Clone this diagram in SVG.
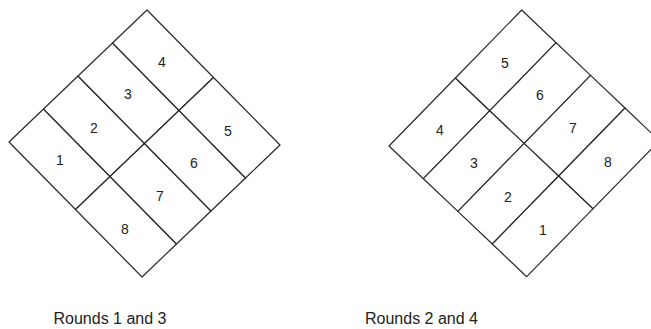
<svg xmlns="http://www.w3.org/2000/svg" width="651" height="329" viewBox="0 0 651 329">
<style>
.cell{fill:#fff;stroke:#2a2a2a;stroke-width:1.2;stroke-linejoin:round}
.num{font-family:"Liberation Sans",Arial,sans-serif;font-size:14px;fill:#222;text-anchor:middle}
.cap{font-family:"Liberation Sans",Arial,sans-serif;font-size:16px;fill:#222;text-anchor:middle}
</style>
<rect width="651" height="329" fill="#fff"/>
<g id="left-diamond">
<g id="L1"><polygon class="cell" points="9,142 43.5,109 110,176.5 75.5,209.5"/><text class="num" x="60" y="165">1</text></g>
<g id="L2"><polygon class="cell" points="43.5,109 78,76 144.5,143.5 110,176.5"/><text class="num" x="94" y="133">2</text></g>
<g id="L3"><polygon class="cell" points="78,76 112.5,43 179,110.5 144.5,143.5"/><text class="num" x="128" y="99">3</text></g>
<g id="L4"><polygon class="cell" points="112.5,43 147,10 213.5,77.5 179,110.5"/><text class="num" x="162" y="67">4</text></g>
<g id="L8"><polygon class="cell" points="75.5,209.5 110,176.5 176.5,244 142,277"/><text class="num" x="125" y="234">8</text></g>
<g id="L7"><polygon class="cell" points="110,176.5 144.5,143.5 211,211 176.5,244"/><text class="num" x="160" y="201">7</text></g>
<g id="L6"><polygon class="cell" points="144.5,143.5 179,110.5 245.5,178 211,211"/><text class="num" x="194" y="168">6</text></g>
<g id="L5"><polygon class="cell" points="179,110.5 213.5,77.5 280,145 245.5,178"/><text class="num" x="228" y="136">5</text></g>
</g>
<g id="right-diamond">
<g id="R4"><polygon class="cell" points="389,146 423.4,178.7 489.8,110.7 455.4,78"/><text class="num" x="440" y="135">4</text></g>
<g id="R3"><polygon class="cell" points="423.4,178.7 457.9,211.4 524.2,143.4 489.8,110.7"/><text class="num" x="474" y="168">3</text></g>
<g id="R2"><polygon class="cell" points="457.9,211.4 492.3,244 558.7,176 524.2,143.4"/><text class="num" x="508" y="202">2</text></g>
<g id="R1"><polygon class="cell" points="492.3,244 526.7,276.7 593.1,208.7 558.7,176"/><text class="num" x="543" y="235">1</text></g>
<g id="R5"><polygon class="cell" points="455.4,78 489.8,110.7 556.1,42.7 521.7,10"/><text class="num" x="505" y="68">5</text></g>
<g id="R6"><polygon class="cell" points="489.8,110.7 524.2,143.4 590.6,75.4 556.1,42.7"/><text class="num" x="540" y="100">6</text></g>
<g id="R7"><polygon class="cell" points="524.2,143.4 558.7,176 625,108 590.6,75.4"/><text class="num" x="573" y="133">7</text></g>
<g id="R8"><polygon class="cell" points="558.7,176 593.1,208.7 659.4,140.7 625,108"/><text class="num" x="608" y="167">8</text></g>
</g>
<g id="connectors"/>
<text class="cap" x="110" y="324">Rounds 1 and 3</text>
<text class="cap" x="421.5" y="324">Rounds 2 and 4</text>
</svg>
